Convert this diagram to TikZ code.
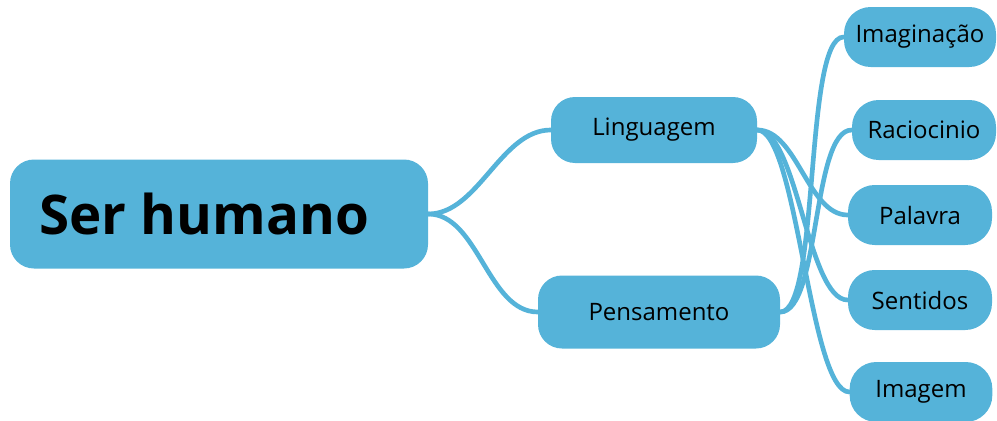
\documentclass[tikz,border=0pt]{standalone}
\usepackage{fontspec}
\setmainfont{Open Sans}
\usetikzlibrary{backgrounds}
\definecolor{mapblue}{RGB}{85,179,217}

\tikzset{
  topic/.style={fill=mapblue, text=black, rounded corners=18pt, inner sep=0pt, align=center},
  root/.style={topic, minimum width=313.5pt, minimum height=81.75pt,
    font=\bfseries\fontsize{41}{46}\selectfont},
  branch/.style={topic, font=\fontsize{18}{21}\selectfont},
  leaf/.style={topic, rounded corners=20pt, minimum height=45pt,
    font=\fontsize{18}{21}\selectfont},
  link/.style={draw=mapblue, line width=3.5pt, line cap=round},
}

\begin{document}
\begin{tikzpicture}[x=0.75pt,y=-0.75pt]
        \useasboundingbox (0,0) rectangle (997,421);

        % draw the central topic
        % (the text sits a bit left of the middle)
        \node[root] (ser) at (219,214) {Ser humano\hspace*{22pt}};

        % draw the two main branches
        \node[branch, minimum width=154.5pt, minimum height=49.5pt] (ling) at (654,130) {Linguagem};
        \node[branch, minimum width=181.5pt, minimum height=54.75pt] (pens) at (659,312) {Pensamento};

        % draw the leaves on the right
        \foreach \name/\x/\y/\w/\txt in {
            imag/920/37/114pt/Imaginação,
            raci/924/130/108pt/Raciocinio,
            pala/920/215/108pt/Palavra,
            sent/920/300/108pt/Sentidos,
            imgm/921/392/107pt/Imagem}
                \node[leaf, minimum width=\w] (\name) at (\x,\y) {\txt};

        % draw the connectors behind the nodes
        \begin{scope}[on background layer]
                \draw[link] (ser.east) .. controls +(50,0) and +(-50,0) .. (ling.west);
                \draw[link] (ser.east) .. controls +(50,0) and +(-50,0) .. (pens.west);
                \foreach \leaf in {pala,sent,imgm}
                        \draw[link] (ling.east) .. controls +(40,0) and +(-40,0) .. (\leaf.west);
                \foreach \leaf in {imag,raci}
                        \draw[link] (pens.east) .. controls +(40,0) and +(-40,0) .. (\leaf.west);
        \end{scope}
\end{tikzpicture}
\end{document}
